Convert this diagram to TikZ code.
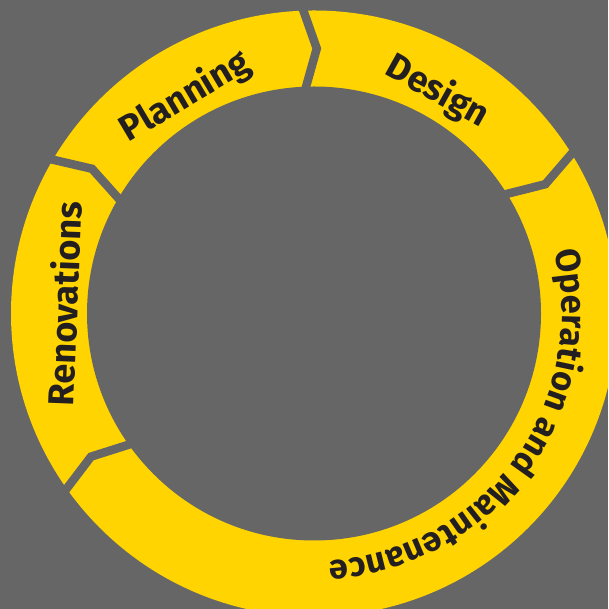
\documentclass[tikz,border=0pt]{standalone}
\usepackage{fontspec}
\setmainfont{Fira Sans}
\usetikzlibrary{calc,decorations.text}
\definecolor{Ring}{HTML}{FFD400}
\definecolor{Back}{HTML}{666666}
\definecolor{Ink}{HTML}{231F20}
\newcommand{\phasefont}{\fontsize{36}{38}\selectfont\bfseries}
\newcommand{\arcfont}{\fontsize{34.5}{37}\selectfont\bfseries}
\tikzset{
  ringband/.style={fill=Ring},
  ringhole/.style={fill=Back},
  phasegap/.style={draw=Back, line width=8.5, line join=miter, line cap=butt},
  phaselabel/.style={text=Ink, font=\phasefont, inner sep=0pt, text depth=0pt},
}

\begin{document}
\begin{tikzpicture}[x=1pt,y=1pt]
    \useasboundingbox (0,0) rectangle (608,609);
    \fill[Back] (0,0) rectangle (608,609);
    \clip (0,0) rectangle (608,609);
    \coordinate (C) at (314,295.5);
    % ring
    \fill[ringband] (C) circle (303);
    \fill[ringhole] (C) circle (227);
    % chevron gaps between the phases
    \foreach \g in {215.3,149.5,92,31.8} {
      \coordinate (o) at ($(C)+(\g:303)$);
      \coordinate (t) at ($(C)+(\g-2.6:265)$);
      \coordinate (i) at ($(C)+(\g:227)$);
      \draw[phasegap] ($(t)!1.4!(o)$) -- (t) -- ($(t)!1.4!(i)$);
    }
    % phase labels
    \node[phaselabel, rotate=30.7] (plan) at ($(C)+(120.7:256)$) {Planning};
    \node[phaselabel, rotate=-29.1] (design) at ($(C)+(60.9:258)$) {Design};
    \node[phaselabel, rotate=87.8] (renov) at ($(C)+(177.8:251)$) {Renovations};
    \path[decorate, decoration={text along path,
        text={|\arcfont\color{Ink}|Operation and Maintenance}, text align=center}]
      ($(C)+(24:248)$) arc[start angle=24, end angle=-96, radius=248];
\end{tikzpicture}
\end{document}
